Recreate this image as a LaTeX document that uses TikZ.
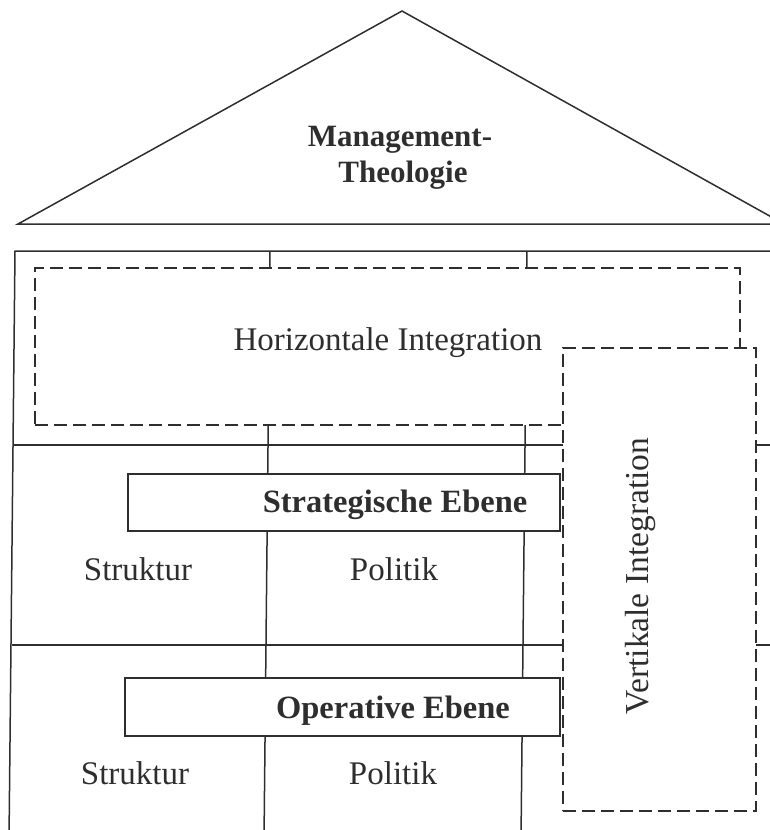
\documentclass[tikz,border=0pt]{standalone}
\usepackage{fontspec}
\setmainfont{Liberation Serif}
\definecolor{inkcol}{rgb}{0.18,0.18,0.18}
\begin{document}
\begin{tikzpicture}[x=1pt,y=-1pt,
  ink/.style={draw=inkcol, line width=1.5pt},
  dashbox/.style={draw=inkcol, line width=1.5pt, dash pattern=on 13pt off 6pt,
    fill=white, rectangle, inner sep=0pt},
  levelbox/.style={ink, fill=white, rectangle, inner sep=0pt},
  lbl/.style={font=\fontsize{33}{38}\selectfont, text=inkcol, inner sep=0pt, anchor=base},
  blbl/.style={lbl, font=\fontsize{32.5}{38}\selectfont\bfseries},
  rlbl/.style={lbl, font=\fontsize{31}{36}\selectfont\bfseries}
]
\useasboundingbox (0,0) rectangle (770,830);
\clip (0,0) rectangle (770,830);

% roof
\coordinate (apex) at (402,11);
\coordinate (eaveL) at (18,224);
\coordinate (eaveR) at (784,224);
\draw[ink, line join=miter] (eaveL) -- (apex) -- (eaveR) -- cycle;
\node[rlbl] (roof1) at (400,146) {Management-};
\node[rlbl] (roof2) at (403,182) {Theologie};

% building frame
\coordinate (wallTL) at (15,251);
\coordinate (wallBL) at (9,840);
\coordinate (wallTR) at (790,251);
\draw[ink] (wallBL) -- (wallTL) -- (wallTR);
\coordinate (floorAL) at (14,445);
\coordinate (floorAR) at (790,445);
\coordinate (floorBL) at (12,645);
\coordinate (floorBR) at (790,645);
\draw[ink] (floorAL) -- (floorAR);
\draw[ink] (floorBL) -- (floorBR);

% columns
\coordinate (colAt) at (270,251);
\coordinate (colAb) at (264,840);
\coordinate (colBt) at (527,251);
\coordinate (colBb) at (521,840);
\draw[ink] (colAt) -- (colAb);
\draw[ink] (colBt) -- (colBb);

% horizontal integration
\node[dashbox, minimum width=705pt, minimum height=157pt] (hint) at (387.5,346.5) {};
\node[lbl] (hintT) at (388,350) {Horizontale Integration};

% levels
\node[levelbox, minimum width=432pt, minimum height=57pt] (strat) at (344,502.5) {};
\node[blbl] (stratT) at (395,512) {Strategische Ebene};
\node[levelbox, minimum width=435pt, minimum height=58pt] (oper) at (342.5,707) {};
\node[blbl] (operT) at (393,718) {Operative Ebene};

\node[lbl] (struk1) at (138,580) {Struktur};
\node[lbl] (pol1) at (394,580) {Politik};
\node[lbl] (struk2) at (135,784) {Struktur};
\node[lbl] (pol2) at (393,784) {Politik};

% vertical integration
\node[dashbox, minimum width=193pt, minimum height=463pt] (vint) at (659.5,579.5) {};
\node[lbl, rotate=90, font=\fontsize{33.5}{38}\selectfont] (vintT) at (648,576) {Vertikale Integration};
\end{tikzpicture}
\end{document}
